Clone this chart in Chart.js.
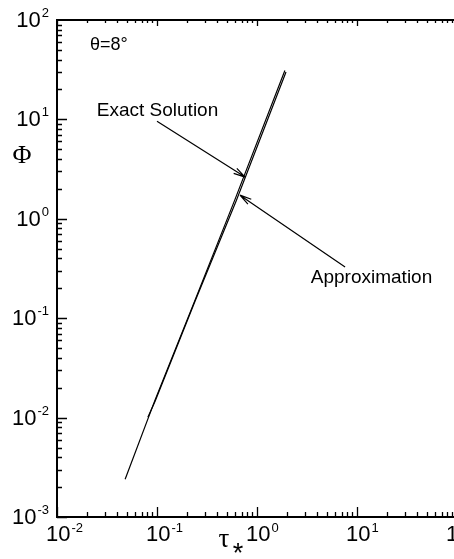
<!DOCTYPE html>
<html>
<head>
<meta charset="utf-8">
<script src="https://cdn.jsdelivr.net/npm/chart.js@4.4.0/dist/chart.umd.min.js"></script>
<style>
  html, body { margin: 0; padding: 0; background: #fff; overflow: hidden; }
  #wrap { width: 460px; height: 559px; }
</style>
</head>
<body>
<div id="wrap"><canvas id="chart" width="460" height="559"></canvas></div>
<script>
// data (tau*, Phi)
const exactTau = [0.048, 0.0955, 0.24, 0.60, 1.9];
const exactPhi = [0.0024, 0.0150, 0.152, 1.55, 31];
const approxTau = [0.081, 0.0955, 0.24, 0.62, 1.95];
const approxPhi = [0.0101, 0.0145, 0.148, 1.52, 30];

// axis decades
const xDecades = [-2, -1, 0, 1, 2];
const yDecades = [-3, -2, -1, 0, 1, 2];

// annotations, in data coordinates
const labels = [
  { text: 'Exact Solution', x: 0.025, y: 12.2 },
  { text: 'Approximation', x: 3.45, y: 0.254 },
  { text: 'θ=8°', x: 0.0214, y: 56, size: 18 }
];
const arrows = [
  { from: [0.1, 9.6], to: [0.76, 2.63] },
  { from: [7.6, 0.327], to: [0.676, 1.73] }
];

const toPts = (xs, ys) => xs.map((v, i) => ({ x: v, y: ys[i] }));

const decorate = {
  id: 'decorate',
  afterDraw(chart) {
    const ctx = chart.ctx;
    const { x, y } = chart.scales;
    const area = chart.chartArea;
    ctx.save();
    ctx.strokeStyle = '#000';
    ctx.fillStyle = '#000';

    // frame top
    ctx.lineWidth = 2;
    ctx.beginPath();
    ctx.moveTo(area.left, area.top);
    ctx.lineTo(area.right, area.top);
    ctx.stroke();

    // tick marks, pointing inwards
    ctx.lineWidth = 1.3;
    ctx.beginPath();
    for (let e = -2; e < 2; e++) {
      for (let m = 1; m <= 9; m++) {
        const px = Math.round(x.getPixelForValue(m * Math.pow(10, e))) + 0.5;
        const len = m === 1 ? 10 : 5;
        ctx.moveTo(px, area.bottom);
        ctx.lineTo(px, area.bottom - len);
        ctx.moveTo(px, area.top);
        ctx.lineTo(px, area.top + (m === 1 ? 6 : 3));
      }
    }
    for (let e = -3; e < 2; e++) {
      for (let m = 1; m <= 9; m++) {
        const py = Math.round(y.getPixelForValue(m * Math.pow(10, e))) + 0.5;
        const len = m === 1 ? 10 : 5;
        ctx.moveTo(area.left, py);
        ctx.lineTo(area.left + len, py);
      }
    }
    ctx.stroke();

    // tick labels with superscripts
    const base = '22px "Liberation Sans", Arial, sans-serif';
    const sup = '13px "Liberation Sans", Arial, sans-serif';
    ctx.textBaseline = 'alphabetic';
    ctx.textAlign = 'left';
    xDecades.forEach(e => {
      const px = x.getPixelForValue(Math.pow(10, e));
      ctx.font = base;
      const w = ctx.measureText('10').width;
      ctx.fillText('10', px - 11, 541);
      ctx.font = sup;
      ctx.fillText(e < 0 ? '-' + (-e) : String(e), px - 11 + w + 1, 532);
    });
    yDecades.forEach(e => {
      const py = y.getPixelForValue(Math.pow(10, e));
      const s = e < 0 ? '-' + (-e) : String(e);
      ctx.font = sup;
      const ws = ctx.measureText(s).width;
      const right = area.left - 8;
      ctx.fillText(s, right - ws, py - 3);
      ctx.font = base;
      const w = ctx.measureText('10').width;
      ctx.fillText('10', right - ws - 1 - w, py + 7);
    });

    // axis titles
    ctx.textAlign = 'center';
    ctx.font = '26px "Liberation Serif", "Times New Roman", serif';
    ctx.fillText('Φ', 22, 163);
    ctx.font = '27px "Liberation Serif", "Times New Roman", serif';
    ctx.fillText('τ', 224, 547);
    ctx.font = '27px "Liberation Sans", Arial, sans-serif';
    ctx.fillText('*', 238, 562);

    // annotations
    labels.forEach(l => {
      ctx.font = (l.size || 19) + 'px "Liberation Sans", Arial, sans-serif';
      ctx.textAlign = 'left';
      ctx.textBaseline = 'middle';
      ctx.fillText(l.text, x.getPixelForValue(l.x), y.getPixelForValue(l.y));
    });
    ctx.lineWidth = 1.2;
    arrows.forEach(a => {
      const x0 = x.getPixelForValue(a.from[0]), y0 = y.getPixelForValue(a.from[1]);
      const x1 = x.getPixelForValue(a.to[0]), y1 = y.getPixelForValue(a.to[1]);
      const ang = Math.atan2(y1 - y0, x1 - x0);
      ctx.beginPath();
      ctx.moveTo(x0, y0);
      ctx.lineTo(x1, y1);
      ctx.moveTo(x1, y1);
      ctx.lineTo(x1 - 12 * Math.cos(ang - 0.25), y1 - 12 * Math.sin(ang - 0.25));
      ctx.moveTo(x1, y1);
      ctx.lineTo(x1 - 12 * Math.cos(ang + 0.25), y1 - 12 * Math.sin(ang + 0.25));
      ctx.stroke();
    });
    ctx.restore();
  }
};

new Chart(document.getElementById('chart'), {
  type: 'scatter',
  data: {
    datasets: [
      {
        label: 'Exact Solution',
        data: toPts(exactTau, exactPhi),
        showLine: true,
        borderColor: '#000',
        borderWidth: 1.2,
        pointRadius: 0
      },
      {
        label: 'Approximation',
        data: toPts(approxTau, approxPhi),
        showLine: true,
        borderColor: '#000',
        borderWidth: 1.2,
        pointRadius: 0
      }
    ]
  },
  options: {
    responsive: false,
    animation: false,
    devicePixelRatio: 1,
    layout: { padding: { left: 57, top: 20, right: 3, bottom: 42 } },
    plugins: {
      legend: { display: false },
      tooltip: { enabled: false }
    },
    scales: {
      x: {
        type: 'logarithmic',
        min: 0.01,
        max: 100,
        grid: { display: false, drawTicks: false },
        border: { display: true, color: '#000', width: 2 },
        ticks: { display: false }
      },
      y: {
        type: 'logarithmic',
        min: 0.001,
        max: 100,
        grid: { display: false, drawTicks: false },
        border: { display: true, color: '#000', width: 2 },
        ticks: { display: false }
      }
    }
  },
  plugins: [decorate]
});
</script>
</body>
</html>
